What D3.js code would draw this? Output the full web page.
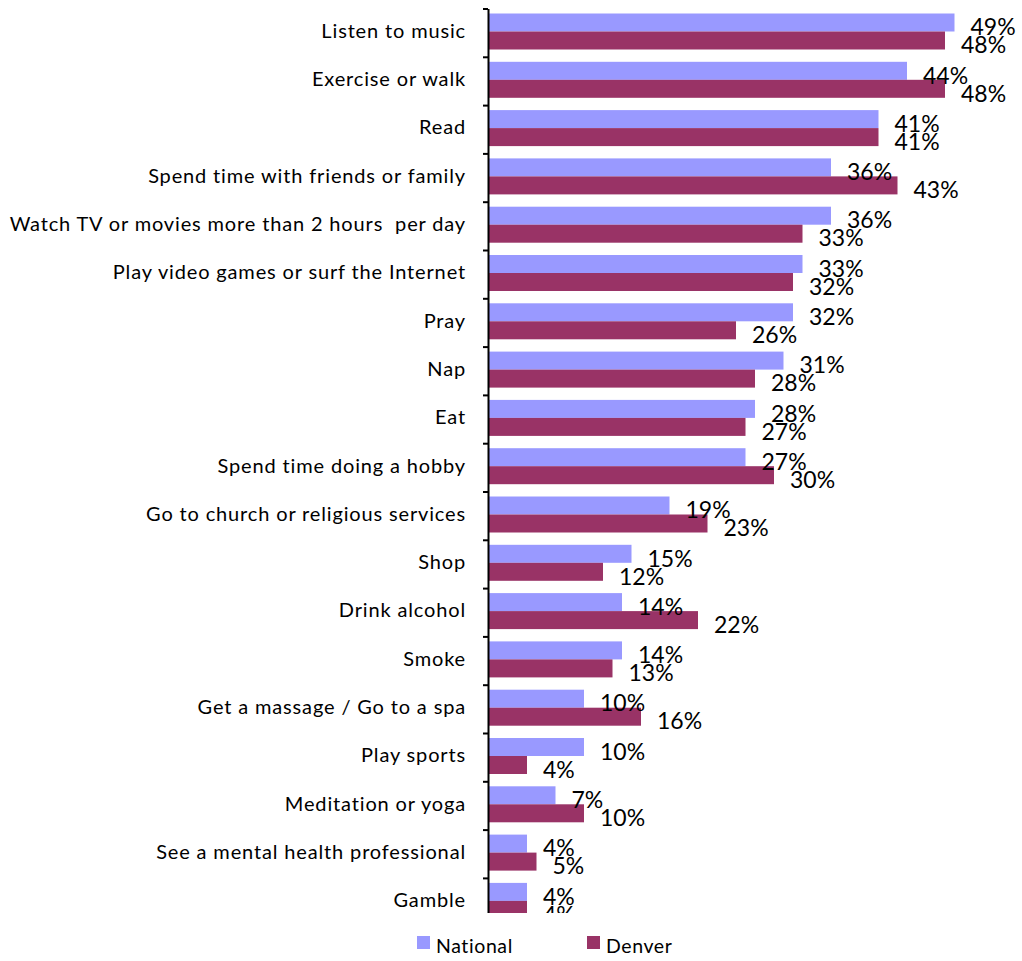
<!DOCTYPE html>
<html>
<head>
<meta charset="utf-8">
<script src="https://cdn.jsdelivr.net/npm/d3@7"></script>
<style>
  body { margin: 0; background: #fff; }
  svg { display: block; }
  text { font-family: Lato, "Open Sans", sans-serif; fill: #000; }
</style>
</head>
<body>
<svg id="chart" width="1022" height="961"></svg>
<script>
// Activities, top to bottom
const categories = [
  "Listen to music",
  "Exercise or walk",
  "Read",
  "Spend time with friends or family",
  "Watch TV or movies more than 2 hours  per day",
  "Play video games or surf the Internet",
  "Pray",
  "Nap",
  "Eat",
  "Spend time doing a hobby",
  "Go to church or religious services",
  "Shop",
  "Drink alcohol",
  "Smoke",
  "Get a massage / Go to a spa",
  "Play sports",
  "Meditation or yoga",
  "See a mental health professional",
  "Gamble"
];

// Share of respondents (%)
const national = [49, 44, 41, 36, 36, 33, 32, 31, 28, 27, 19, 15, 14, 14, 10, 10, 7, 4, 4];
const denver   = [48, 48, 41, 43, 33, 32, 26, 28, 27, 30, 23, 12, 22, 13, 16, 4, 10, 5, 4];

const seriesNames = ["National", "Denver"];
const seriesColors = ["#9999ff", "#993366"];

const svg = d3.select("#chart");
const W = 1022;

const axisX = 488;
const plotTop = 8.5, step = 48.3;
const plotBottom = plotTop + step * categories.length;
const clipBottom = 913;

const x = d3.scaleLinear().domain([0, 50]).range([489, 964]);
const y = d3.scaleBand().domain(categories).range([plotTop, plotBottom]).padding(0);
const ySub = d3.scaleBand().domain(seriesNames).range([5, 41]).padding(0);
const color = d3.scaleOrdinal().domain(seriesNames).range(seriesColors);

const rows = categories.map((c, i) => ({
  category: c,
  values: [
    { series: "National", value: national[i] },
    { series: "Denver", value: denver[i] }
  ]
}));

svg.append("defs").append("clipPath").attr("id", "plotClip")
  .append("rect").attr("x", 0).attr("y", 0).attr("width", W).attr("height", clipBottom);

const plot = svg.append("g").attr("clip-path", "url(#plotClip)");

const groups = plot.selectAll("g.row").data(rows).join("g")
  .attr("class", "row")
  .attr("transform", d => `translate(0,${y(d.category)})`);

groups.selectAll("rect").data(d => d.values).join("rect")
  .attr("x", x(0))
  .attr("y", d => ySub(d.series))
  .attr("width", d => x(d.value) - x(0))
  .attr("height", ySub.bandwidth())
  .attr("fill", d => color(d.series));

groups.selectAll("text.val").data(d => d.values).join("text")
  .attr("class", "val")
  .attr("x", d => x(d.value) + 16)
  .attr("y", d => ySub(d.series) + ySub.bandwidth() / 2 + 4.5)
  .attr("dy", "0.36em")
  .style("font-size", "23px")
  .text(d => d.value + "%");

// Category axis with ticks on band boundaries
const yIdx = d3.scaleLinear().domain([0, categories.length]).range([plotTop, plotBottom]);
const axis = plot.append("g")
  .attr("transform", `translate(${axisX},0)`)
  .call(d3.axisLeft(yIdx).tickValues(d3.range(0, categories.length + 1))
    .tickSize(5).tickSizeOuter(0).tickFormat(""));
axis.selectAll("path, line").attr("stroke", "#000").attr("stroke-width", 2);

plot.selectAll("text.cat").data(categories).join("text")
  .attr("class", "cat")
  .attr("x", 466)
  .attr("y", d => y(d) + y.bandwidth() / 2 - 2)
  .attr("dy", "0.36em")
  .attr("text-anchor", "end")
  .style("font-size", "20px")
  .style("letter-spacing", "0.85px")
  .style("white-space", "pre")
  .text(d => d);

// Legend
const legend = svg.append("g").attr("transform", "translate(417,936)");
const items = legend.selectAll("g").data(seriesNames).join("g")
  .attr("transform", (d, i) => `translate(${i * 170},0)`);
items.append("rect").attr("width", 13).attr("height", 13).attr("fill", d => color(d));
items.append("text").attr("x", 19).attr("y", 17)
  .style("font-size", "19.5px").style("letter-spacing", "0.6px").text(d => d);
</script>
</body>
</html>
